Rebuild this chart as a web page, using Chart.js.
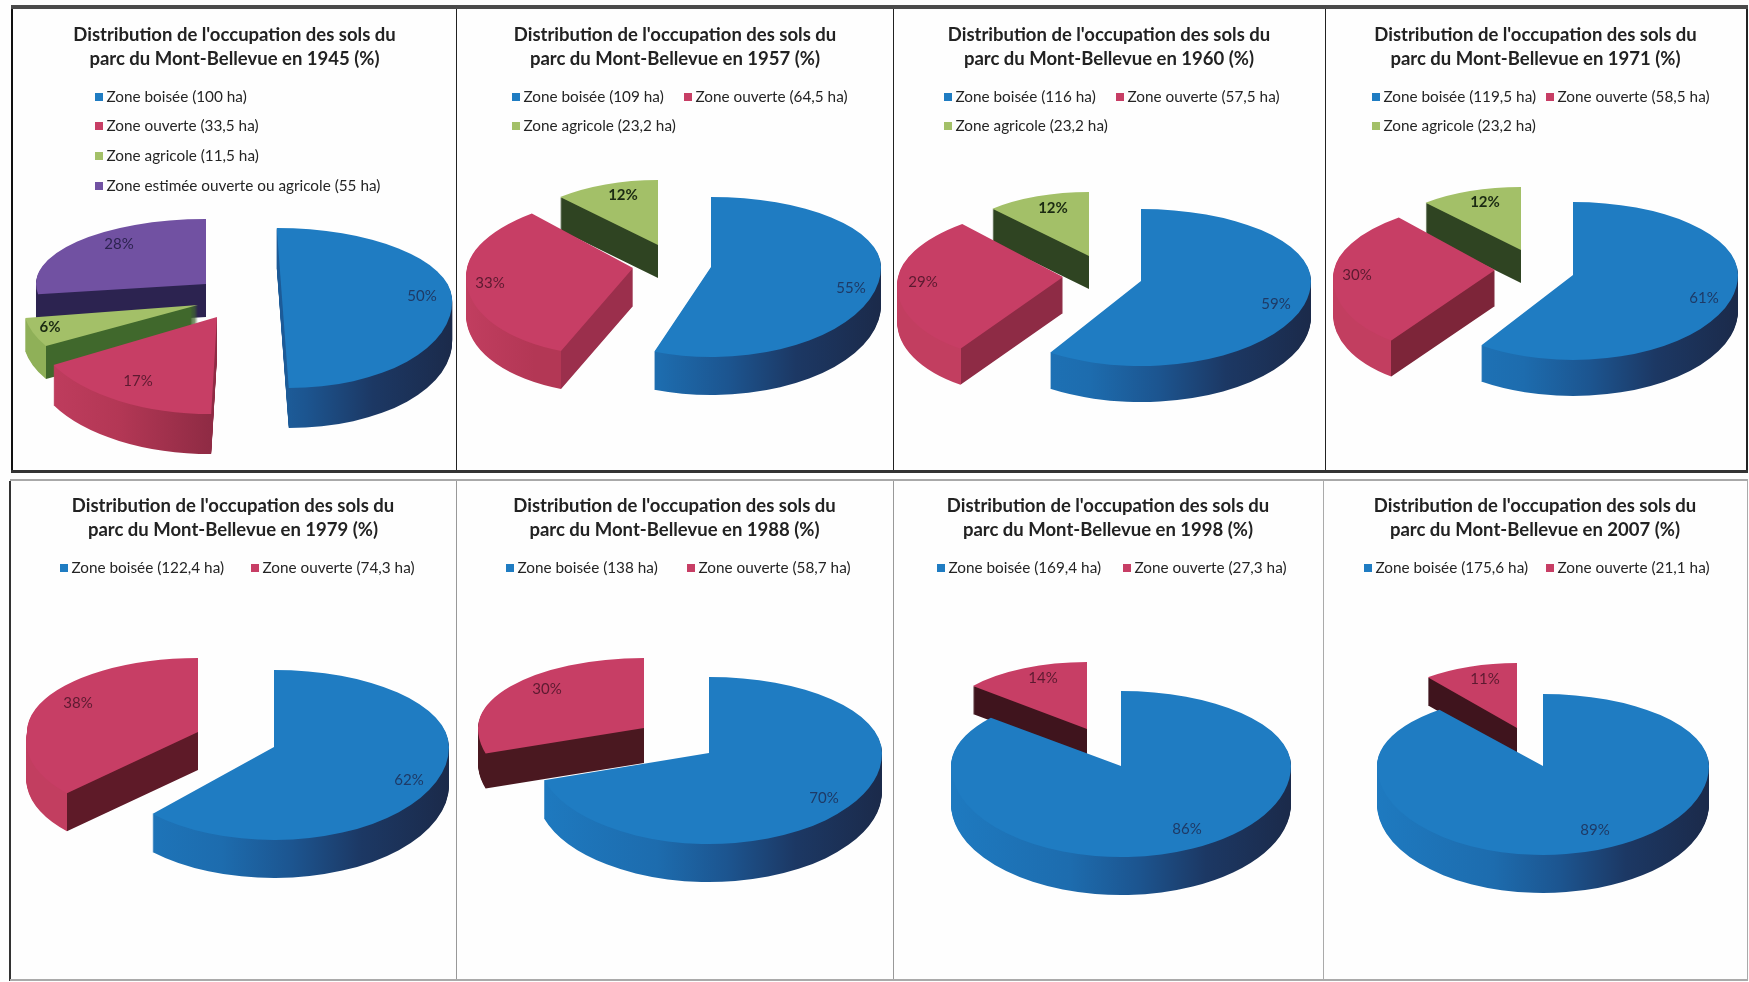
<!DOCTYPE html>
<html lang="fr">
<head>
<meta charset="utf-8">
<title>Occupation des sols du parc du Mont-Bellevue</title>
<script src="https://cdn.jsdelivr.net/npm/chart.js@4/dist/chart.umd.min.js"></script>
<style>
  html, body { margin: 0; padding: 0; background: #fefefe; }
  body { position: relative; width: 1749px; height: 982px; overflow: hidden; }
  canvas { position: absolute; }
  .rule { position: absolute; }
</style>
</head>
<body>
<script>
// Land-use categories and their surfaces in hectares, one array per survey year.
const categories = ['Zone boisée', 'Zone ouverte', 'Zone agricole', 'Zone estimée ouverte ou agricole'];
const years = ['1945', '1957', '1960', '1971', '1979', '1988', '1998', '2007'];

const hectares1945 = [100, 33.5, 11.5, 55];
const hectares1957 = [109, 64.5, 23.2];
const hectares1960 = [116, 57.5, 23.2];
const hectares1971 = [119.5, 58.5, 23.2];
const hectares1979 = [122.4, 74.3];
const hectares1988 = [138, 58.7];
const hectares1998 = [169.4, 27.3];
const hectares2007 = [175.6, 21.1];

// Percentages as printed on the slices.
const percent1945 = ['50%', '17%', '6%', '28%'];
const percent1957 = ['55%', '33%', '12%'];
const percent1960 = ['59%', '29%', '12%'];
const percent1971 = ['61%', '30%', '12%'];
const percent1979 = ['62%', '38%'];
const percent1988 = ['70%', '30%'];
const percent1998 = ['86%', '14%'];
const percent2007 = ['89%', '11%'];

const hectaresByYear = [hectares1945, hectares1957, hectares1960, hectares1971, hectares1979, hectares1988, hectares1998, hectares2007];
const percentByYear = [percent1945, percent1957, percent1960, percent1971, percent1979, percent1988, percent1998, percent2007];

// Slice appearance, by category.
const faceColors = ['#1f7cc2', '#c73e65', '#a3c068', '#7151a2'];
const labelColors = ['#1e3a66', '#5c1a30', '#1b2a12', '#2c2350'];
const labelWeights = ['400', '400', '700', '400'];
const wallStops = [
  [[-1, '#1e7ac0'], [-0.3, '#1d6cae'], [0.1, '#1c5590'], [0.5, '#1c3864'], [1, '#1b2a4a']],
  [[-1, '#c23e60'], [-0.5, '#b33755'], [0, '#8f2b44'], [1, '#6e2035']],
  [[-1, '#8fb058'], [1, '#8fb058']],
  [[-1, '#2c2350'], [1, '#2c2350']]
];

// Panel layout in page pixels.
// shape: horizontal radius, far and near vertical radius, wall height, far and near shear.
const layouts = [
  { box: [12, 9, 457, 471], centre: [239, 298], burst: 43, tilt: 0.5, order: [3, 2, 1, 0],
    shape: [[170, 70, 90, 40, 0.075, 0.075], [185, 70, 97, 40, 0, -0.06], [175, 65, 83, 33, 0, 0], [170, 65, 65, 33, 0, 0]],
    facing: [null, '#8f2b44', '#40682c', '#2c2350'],
    legend: [[95, 97], [95, 126], [95, 156], [95, 186]],
    shift: [[140, -2], [-79, 64], [-148, 22], [-87, -40]] },
  { box: [457, 9, 893, 471], centre: [672, 264], burst: 40, tilt: 0.5, order: [2, 1, 0],
    shape: [[170, 70, 90, 38, 0, 0], [166, 74, 88, 38, -0.2, -0.2], [145, 65, 70, 33, 0, 0]],
    facing: [null, '#9b2f4c', '#2f4422'],
    legend: [[512, 97], [684, 97], [512, 126]],
    shift: [[140, 21], [-143, 15], [-35, -50]] },
  { box: [893, 9, 1325, 471], centre: [1103, 275], burst: 40, tilt: 0.5, order: [2, 1, 0],
    shape: [[170, 72, 85, 36, 0, 0], [165, 72, 85, 36, -0.2, -0.2], [143, 64, 70, 33, 0, 0]],
    facing: [null, '#8e2b45', '#2f4422'],
    legend: [[944, 97], [1116, 97], [944, 126]],
    shift: [[135, 23], [-140, 5], [-36, -48]] },
  { box: [1325, 9, 1746, 471], centre: [1535, 269], burst: 40, tilt: 0.5, order: [2, 1, 0],
    shape: [[165, 73, 85, 36, 0, 0], [161, 70, 85, 36, -0.2, -0.2], [144, 63, 70, 33, 0, 0]],
    facing: [null, '#7d2539', '#2f4422'],
    legend: [[1372, 97], [1546, 97], [1372, 126]],
    shift: [[131, 23], [-138, 5], [-36, -48]] },
  { box: [10, 480, 456, 980], centre: [236, 739.5], burst: 41, tilt: 0.49, order: [1, 0],
    shape: [[175, 77, 93, 38, 0, 0], [171, 74, 85, 38, 0, -0.2]],
    facing: [null, '#5e1a28'],
    legend: [[60, 568], [251, 568]],
    shift: [[135, 33], [-120, -29]] },
  { box: [456, 480, 893, 980], centre: [676.5, 740.5], burst: 40, tilt: 0.53, order: [0, 1],
    shape: [[173, 76, 91, 38, 0, 0], [166, 70, 85, 35, 0, 0]],
    facing: [null, '#4a1820'],
    legend: [[506, 568], [687, 568]],
    shift: [[115, 45], [-97, -39]] },
  { box: [893, 480, 1323, 980], centre: [1104, 747.5], burst: 40, tilt: 0.51, order: [1, 0],
    shape: [[170, 75, 91, 38, 0, 0], [149, 67, 80, 28, 0, 0]],
    facing: [null, '#3f141d'],
    legend: [[937, 568], [1123, 568]],
    shift: [[66, 63], [-44, -51]] },
  { box: [1323, 480, 1747, 980], centre: [1530, 747], burst: 39, tilt: 0.51, order: [1, 0],
    shape: [[166, 72, 89, 38, 0, 0], [143, 65, 80, 28, 0, 0]],
    facing: [null, '#3f141d'],
    legend: [[1364, 568], [1546, 568]],
    shift: [[52, 64], [-32, -49]] }
];

// Panel frame: left, top, width, height, colour.
const frameRules = [
  [11, 5, 1737, 4, '#4a4a4a'], [11, 9, 2, 462, '#111'], [456, 9, 1, 462, '#222'], [893, 9, 1, 462, '#222'],
  [1325, 9, 1, 462, '#222'], [1746, 9, 2, 462, '#222'], [11, 470, 1737, 3, '#333'],
  [10, 479, 1738, 2, '#a8a8a8'], [9, 481, 2, 500, '#333'], [456, 481, 1, 499, '#999'], [893, 481, 1, 499, '#999'],
  [1323, 481, 1, 499, '#aaa'], [1747, 481, 1, 499, '#aaa'], [10, 979, 1738, 2, '#aaa']
];

frameRules.forEach(([l, t, w, h, c]) => {
  const d = document.createElement('div');
  d.className = 'rule';
  d.style.cssText = `left:${l}px;top:${t}px;width:${w}px;height:${h}px;background:${c}`;
  document.body.appendChild(d);
});

const fontFamily = 'Lato, "Noto Sans", sans-serif';

function wallPaint(ctx, arc, index, layout) {
  const R = arc.outerRadius;
  const g = ctx.createLinearGradient(arc.x - R, 0, arc.x + R, 0);
  const tip = Math.sin(arc.startAngle + Math.PI / 2);
  const facing = layout.facing[index];
  if (facing && tip < -0.9) {
    // the outer wall is barely visible: the radial wall fills the whole width
    g.addColorStop(0, facing);
    g.addColorStop(1, facing);
    return g;
  }
  wallStops[index].forEach(([pos, color]) => {
    if (!facing || pos < tip) g.addColorStop((pos + 1) / 2, color);
  });
  if (facing) {
    const t = Math.min(Math.max((tip + 1) / 2, 0), 1);
    // outer wall colour just left of the front corner
    const stops = wallStops[index];
    let before = stops[0][1];
    stops.forEach(([pos, color]) => { if (pos <= tip) before = color; });
    g.addColorStop(t, before);
    g.addColorStop(t, facing);
    g.addColorStop(1, facing);
  }
  return g;
}

// Paints one slice flattened around its own corner, with separate far and near halves.
function paintSlice(ctx, arc, width, height, apexX, apexY, shape, fill) {
  const [rx, far, near, , shearFar, shearNear] = shape;
  const R = arc.outerRadius;
  const saved = arc.options;
  arc.options = Object.assign({}, saved, { backgroundColor: fill, borderWidth: 0, offset: 0, spacing: 0 });
  [[0, apexY, far, shearFar], [apexY, height - apexY, near, shearNear]].forEach(([top, h, ry, k]) => {
    ctx.save();
    ctx.beginPath();
    ctx.rect(-50, top, width + 100, h);
    ctx.clip();
    ctx.transform(1, 0, k, 1, apexX, apexY);
    ctx.scale(rx / R, ry / R);
    ctx.translate(-arc.x, -arc.y);
    arc.draw(ctx);
    ctx.restore();
  });
  arc.options = saved;
}

const extrudedPie = {
  id: 'extrudedPie',
  beforeDatasetsDraw(chart, args, opts) {
    const { ctx, width, height } = chart;
    const layout = opts.layout;
    const [left, top] = layout.box;
    const arcs = chart.getDatasetMeta(0).data;
    const apexes = arcs.map(arc => {
      const mid = (arc.startAngle + arc.endAngle) / 2;
      return [
        Math.round(layout.centre[0] - left + Math.cos(mid) * layout.burst),
        Math.round(layout.centre[1] - top + Math.sin(mid) * layout.burst * layout.tilt)
      ];
    });
    layout.order.forEach(i => {
      const arc = arcs[i];
      const [ax, ay] = apexes[i];
      const shape = layout.shape[i];
      const wall = wallPaint(ctx, arc, i, layout);
      for (let k = shape[3]; k >= 1; k--) {
        paintSlice(ctx, arc, width, height, ax, ay + k, shape, wall);
      }
      paintSlice(ctx, arc, width, height, ax, ay, shape, faceColors[i]);
    });
    // Percentages on the slices, anchored to each slice's corner.
    ctx.save();
    ctx.textAlign = 'center';
    ctx.textBaseline = 'middle';
    opts.percents.forEach((text, i) => {
      ctx.font = `${labelWeights[i]} 15px ${fontFamily}`;
      ctx.fillStyle = labelColors[i];
      ctx.fillText(text, apexes[i][0] + layout.shift[i][0], apexes[i][1] + layout.shift[i][1]);
    });
    ctx.restore();
    // Legend entries built from the chart's own labels and colours.
    ctx.save();
    ctx.textAlign = 'left';
    ctx.textBaseline = 'middle';
    ctx.font = `400 15.3px ${fontFamily}`;
    chart.data.labels.forEach((text, i) => {
      const x = layout.legend[i][0] - left;
      const y = layout.legend[i][1] - top;
      ctx.fillStyle = faceColors[i];
      ctx.fillRect(x, y - 4, 8, 8);
      ctx.fillStyle = '#242424';
      ctx.fillText(text, x + 11.5, y);
    });
    ctx.restore();
    return false;
  }
};

layouts.forEach((layout, p) => {
  const [l, t, r, b] = layout.box;
  const canvas = document.createElement('canvas');
  canvas.width = r - l;
  canvas.height = b - t;
  canvas.style.left = l + 'px';
  canvas.style.top = t + 'px';
  canvas.style.width = (r - l) + 'px';
  canvas.style.height = (b - t) + 'px';
  document.body.appendChild(canvas);
  const values = hectaresByYear[p];
  new Chart(canvas, {
    type: 'pie',
    data: {
      labels: values.map((v, i) => `${categories[i]} (${String(v).replace('.', ',')} ha)`),
      datasets: [{ data: values, backgroundColor: values.map((v, i) => faceColors[i]), borderWidth: 0 }]
    },
    options: {
      responsive: false,
      animation: false,
      layout: { padding: 0 },
      plugins: {
        legend: { display: false },
        tooltip: { enabled: false },
        title: {
          display: true,
          text: ["Distribution de l'occupation des sols du", `parc du Mont-Bellevue en ${years[p]} (%)`],
          color: '#222222',
          font: { family: fontFamily, size: 18.5, weight: '700', lineHeight: 1.3 },
          padding: { top: 14, bottom: 0 }
        },
        extrudedPie: { layout, percents: percentByYear[p] }
      }
    },
    plugins: [extrudedPie]
  });
});
</script>
</body>
</html>
